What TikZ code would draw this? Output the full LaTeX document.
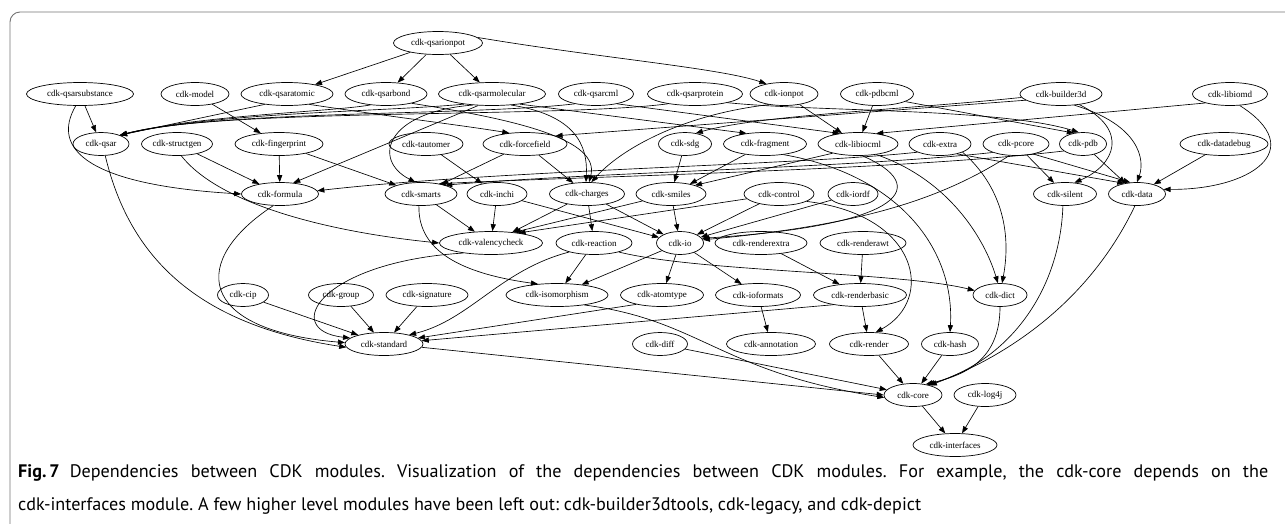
\documentclass[tikz,border=0pt]{standalone}
\usepackage{fontspec}
\usepackage{graphicx}
\setmainfont{Liberation Serif}
\newfontfamily\capfont{PT Sans}
\usetikzlibrary{arrows.meta,shapes.geometric}
\newcommand\capLineOne{\textbf{Fig.\,7}\hspace{0.55em}Dependencies between CDK modules. Visualization of the dependencies between CDK modules. For example, the cdk-core depends on the}
\newcommand\capLineTwo{cdk-interfaces module. A few higher level modules have been left out: cdk-builder3dtools, cdk-legacy, and cdk-depict}
\newcommand\capSize{\capfont\fontsize{18.4}{20}\selectfont\frenchspacing}
\newsavebox\capBoxTwo
\begin{document}
\begin{tikzpicture}[x=1pt,y=-1pt,
  mod/.style={ellipse,draw,line width=0.7pt,inner sep=0pt,minimum height=23pt,font=\fontsize{9}{10}\selectfont},
  dep/.style={-{Triangle[length=7pt,width=5.2pt]},line width=0.65pt},
  frame/.style={draw=black!55,line width=0.9pt,rounded corners=10pt},
  captext/.style={anchor=base west,inner sep=0pt,font=\capSize}
]
\useasboundingbox (0,0) rectangle (1285,523);
\draw[frame] (10,540) -- (10,12) -- (1300,12);
% row 0
\node[mod,minimum width=89pt] (qsarionpot) at (438,43) {cdk-qsarionpot};
% row 1
\node[mod,minimum width=107pt] (qsarsubstance) at (80,94) {cdk-qsarsubstance};
\node[mod,minimum width=68pt] (model) at (195,94) {cdk-model};
\node[mod,minimum width=92pt] (qsaratomic) at (287,94) {cdk-qsaratomic};
\node[mod,minimum width=82pt] (qsarbond) at (386,94) {cdk-qsarbond};
\node[mod,minimum width=107pt] (qsarmolecular) at (492,94) {cdk-qsarmolecular};
\node[mod,minimum width=75pt] (qsarcml) at (596,94) {cdk-qsarcml};
\node[mod,minimum width=95pt] (qsarprotein) at (695,94) {cdk-qsarprotein};
\node[mod,minimum width=68pt] (ionpot) at (784,94) {cdk-ionpot};
\node[mod,minimum width=73pt] (pdbcml) at (877,94) {cdk-pdbcml};
\node[mod,minimum width=82pt] (builder3d) at (1061,94) {cdk-builder3d};
\node[mod,minimum width=75pt] (libiomd) at (1230,94) {cdk-libiomd};
% row 2
\node[mod,minimum width=56pt] (qsar) at (101,144) {cdk-qsar};
\node[mod,minimum width=71pt] (structgen) at (177,144) {cdk-structgen};
\node[mod,minimum width=88pt] (fingerprint) at (279,144) {cdk-fingerprint};
\node[mod,minimum width=74pt] (tautomer) at (426,144) {cdk-tautomer};
\node[mod,minimum width=84pt] (forcefield) at (525,144) {cdk-forcefield};
\node[mod,minimum width=53pt] (sdg) at (685,144) {cdk-sdg};
\node[mod,minimum width=83pt] (fragment) at (765,144) {cdk-fragment};
\node[mod,minimum width=80pt] (libiocml) at (858,144) {cdk-libiocml};
\node[mod,minimum width=62pt] (extra) at (940,144) {cdk-extra};
\node[mod,minimum width=66pt] (pcore) at (1016,144) {cdk-pcore};
\node[mod,minimum width=47pt] (pdb) at (1083,144) {cdk-pdb};
\node[mod,minimum width=88pt] (datadebug) at (1224,144) {cdk-datadebug};
% row 3
\node[mod,minimum width=77pt] (formula) at (280,194) {cdk-formula};
\node[mod,minimum width=72pt] (smarts) at (421,194) {cdk-smarts};
\node[mod,minimum width=60pt] (inchi) at (497,194) {cdk-inchi};
\node[mod,minimum width=75pt] (charges) at (587,194) {cdk-charges};
\node[mod,minimum width=70pt] (smiles) at (671,194) {cdk-smiles};
\node[mod,minimum width=70pt] (control) at (779,194) {cdk-control};
\node[mod,minimum width=50pt] (iordf) at (853,194) {cdk-iordf};
\node[mod,minimum width=63pt] (silent) at (1065,194) {cdk-silent};
\node[mod,minimum width=57pt] (data) at (1137,194) {cdk-data};
% row 4
\node[mod,minimum width=103pt] (valencycheck) at (491,243) {cdk-valencycheck};
\node[mod,minimum width=76pt] (reaction) at (594,243) {cdk-reaction};
\node[mod,minimum width=47pt] (io) at (680,243) {cdk-io};
\node[mod,minimum width=92pt] (renderextra) at (761,243) {cdk-renderextra};
\node[mod,minimum width=86pt] (renderawt) at (863,243) {cdk-renderawt};
% row 5
\node[mod,minimum width=51pt] (cip) at (243,295) {cdk-cip};
\node[mod,minimum width=65pt] (group) at (341,295) {cdk-group};
\node[mod,minimum width=82pt] (signature) at (427,295) {cdk-signature};
\node[mod,minimum width=102pt] (isomorphism) at (557,295) {cdk-isomorphism};
\node[mod,minimum width=83pt] (atomtype) at (662,295) {cdk-atomtype};
\node[mod,minimum width=85pt] (ioformats) at (758,295) {cdk-ioformats};
\node[mod,minimum width=93pt] (renderbasic) at (860,295) {cdk-renderbasic};
\node[mod,minimum width=54pt] (dict) at (1000,295) {cdk-dict};
% row 6
\node[mod,minimum width=78pt] (standard) at (384,344) {cdk-standard};
\node[mod,minimum width=55pt] (diff) at (660,344) {cdk-diff};
\node[mod,minimum width=89pt] (annotation) at (771,344) {cdk-annotation};
\node[mod,minimum width=79pt] (render) at (869,344) {cdk-render};
\node[mod,minimum width=57pt] (hash) at (950,344) {cdk-hash};
% row 7, 8
\node[mod,minimum width=58pt] (core) at (913,395) {cdk-core};
\node[mod,minimum width=62pt] (log4j) at (985,395) {cdk-log4j};
\node[mod,minimum width=84pt] (interfaces) at (955,445) {cdk-interfaces};

% ---- edges from top rows
\draw[dep] (qsarionpot) -- (qsaratomic);
\draw[dep] (qsarionpot) -- (qsarbond);
\draw[dep] (qsarionpot) -- (qsarmolecular);
\draw[dep] (qsarionpot.8) .. controls (600,58) and (720,68) .. (ionpot.150);
\draw[dep] (qsarsubstance) -- (qsar);
\draw[dep] (qsarsubstance.250) .. controls (50,150) and (90,185) .. (formula.west);
\draw[dep] (model) -- (fingerprint);
\draw[dep] (qsaratomic.205) -- (qsar.25);
\draw[dep] (qsarbond.215) .. controls (330,112) and (200,115) .. (qsar.25);
\draw[dep] (qsarmolecular.200) .. controls (380,112) and (220,112) .. (qsar.25);
\draw[dep] (qsarcml.205) .. controls (470,116) and (220,110) .. (qsar.25);
\draw[dep] (qsarprotein.200) .. controls (560,118) and (220,108) .. (qsar.25);
\draw[dep] (qsaratomic.335) .. controls (400,118) and (460,125) .. (forcefield.145);
\draw[dep] (qsarmolecular.220) -- (formula.40);
\draw[dep] (qsarmolecular.210) .. controls (385,112) and (372,160) .. (smarts.115);
\draw[dep] (qsarmolecular.330) .. controls (575,115) and (588,145) .. (charges.95);
\draw[dep] (qsarbond.340) .. controls (520,120) and (600,140) .. (charges.80);
\draw[dep] (qsarmolecular.340) -- (fragment.150);
\draw[dep] (qsarcml.335) -- (libiocml.150);
\draw[dep] (qsarprotein.345) .. controls (820,112) and (1000,108) .. (pdb.110);
\draw[dep] (ionpot) -- (libiocml);
\draw[dep] (ionpot.215) .. controls (680,115) and (620,150) .. (charges.70);
\draw[dep] (pdbcml) -- (libiocml);
\draw[dep] (pdbcml.345) -- (pdb.130);
\draw[dep] (builder3d.190) -- (forcefield.15);
\draw[dep] (builder3d.185) .. controls (900,110) and (760,115) .. (sdg.45);
\draw[dep] (builder3d.330) .. controls (1130,130) and (1115,165) .. (silent.50);
\draw[dep] (builder3d.320) .. controls (1140,125) and (1145,160) .. (data.90);
\draw[dep] (libiomd.200) -- (libiocml.30);
\draw[dep] (libiomd.310) .. controls (1310,150) and (1250,190) .. (data.10);
\draw[dep] (datadebug) -- (data);
% ---- row 2 sources
\draw[dep] (qsar.290) .. controls (130,260) and (200,325) .. (standard.185);
\draw[dep] (structgen) -- (formula);
\draw[dep] (structgen.290) .. controls (220,205) and (330,232) .. (valencycheck.west);
\draw[dep] (fingerprint) -- (formula);
\draw[dep] (fingerprint) -- (smarts);
\draw[dep] (tautomer) -- (inchi);
\draw[dep] (forcefield) -- (smarts);
\draw[dep] (forcefield) -- (charges);
\draw[dep] (sdg) -- (smiles);
\draw[dep] (fragment) -- (smiles);
\draw[dep] (fragment.330) .. controls (900,175) and (955,250) .. (hash.north);
\draw[dep] (libiocml.200) -- (smiles.20);
\draw[dep] (libiocml.290) .. controls (930,185) and (910,225) .. (io.12);
\draw[dep] (libiocml.330) .. controls (950,180) and (985,240) .. (dict.100);
\draw[dep] (extra.200) .. controls (800,165) and (500,170) .. (formula.5);
\draw[dep] (extra.340) .. controls (1000,185) and (1012,230) .. (dict.80);
\draw[dep] (extra.330) -- (data.140);
\draw[dep] (pcore.200) .. controls (850,168) and (600,172) .. (smarts.20);
\draw[dep] (pcore.240) .. controls (940,200) and (860,225) .. (io.8);
\draw[dep] (pcore) -- (silent);
\draw[dep] (pcore.330) -- (data.120);
\draw[dep] (pdb.200) .. controls (900,170) and (600,176) .. (smarts.30);
\draw[dep] (pdb) -- (data);
% ---- row 3 sources
\draw[dep] (formula.240) .. controls (190,260) and (195,330) .. (standard.178);
\draw[dep] (smarts) -- (valencycheck);
\draw[dep] (smarts.260) .. controls (418,245) and (450,272) .. (isomorphism.150);
\draw[dep] (inchi) -- (valencycheck);
\draw[dep] (inchi) -- (io);
\draw[dep] (charges) -- (valencycheck);
\draw[dep] (charges) -- (reaction);
\draw[dep] (charges) -- (io);
\draw[dep] (smiles) -- (valencycheck.25);
\draw[dep] (smiles) -- (io);
\draw[dep] (control) -- (valencycheck.20);
\draw[dep] (control) -- (io);
\draw[dep] (control.345) .. controls (920,215) and (935,300) .. (render.60);
\draw[dep] (iordf) -- (io);
\draw[dep] (silent.260) .. controls (1060,290) and (1010,360) .. (core.35);
\draw[dep] (data.260) .. controls (1090,300) and (1010,355) .. (core.30);
% ---- row 4 sources
\draw[dep] (valencycheck.200) .. controls (320,262) and (280,330) .. (standard.170);
\draw[dep] (reaction.200) .. controls (500,270) and (470,320) .. (standard.20);
\draw[dep] (reaction) -- (isomorphism);
\draw[dep] (reaction.340) .. controls (700,272) and (900,272) .. (dict.170);
\draw[dep] (io) -- (isomorphism);
\draw[dep] (io) -- (atomtype);
\draw[dep] (io) -- (ioformats);
\draw[dep] (renderextra) -- (renderbasic);
\draw[dep] (renderawt) -- (renderbasic);
% ---- row 5 sources
\draw[dep] (cip) -- (standard);
\draw[dep] (group) -- (standard);
\draw[dep] (signature) -- (standard);
\draw[dep] (isomorphism.340) .. controls (700,320) and (720,372) .. (core.185);
\draw[dep] (atomtype.200) -- (standard.10);
\draw[dep] (renderbasic.200) -- (standard.5);
\draw[dep] (renderbasic) -- (render);
\draw[dep] (ioformats) -- (annotation);
\draw[dep] (dict.270) .. controls (1000,360) and (965,375) .. (core.40);
% ---- row 6, 7 sources
\draw[dep] (standard.355) -- (core.180);
\draw[dep] (diff) -- (core);
\draw[dep] (render) -- (core);
\draw[dep] (hash) -- (core);
\draw[dep] (core) -- (interfaces);
\draw[dep] (log4j) -- (interfaces);

% caption (first line justified to the full width, last line at natural width)
\node[captext] (cap1) at (18,477) {\sbox\capBoxTwo{\capLineTwo}\resizebox{1250pt}{!}{\makebox[1.3843\wd\capBoxTwo][s]{\capLineOne}}};
\node[captext] (cap2) at (18,510) {\resizebox{903pt}{!}{\capLineTwo}};
\end{tikzpicture}
\end{document}
